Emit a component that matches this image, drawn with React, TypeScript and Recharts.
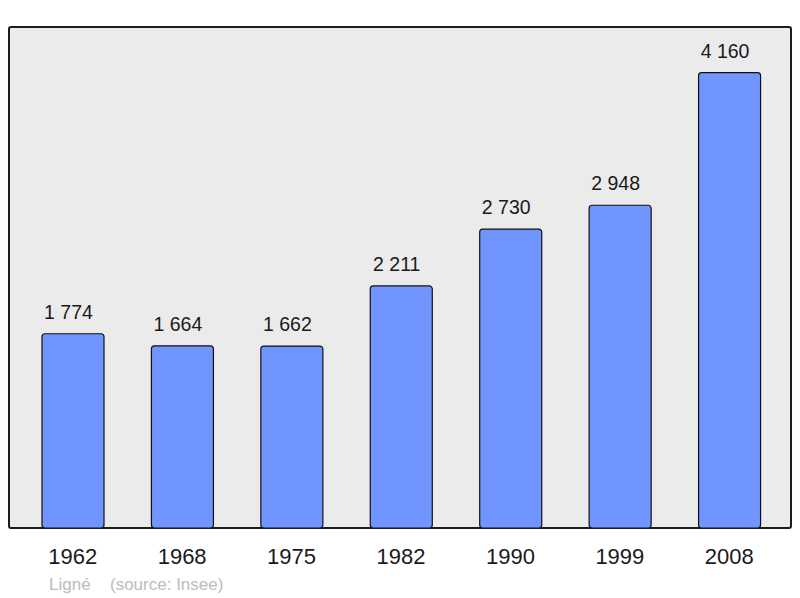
import React from 'react';
import { BarChart, Bar, XAxis, YAxis, LabelList } from 'recharts';

const years = ['1962', '1968', '1975', '1982', '1990', '1999', '2008'];
const population = [1774, 1664, 1662, 2211, 2730, 2948, 4160];
const commune = 'Ligné';
const sourceText = '(source: Insee)';

const data = years.map((y, i) => ({ year: y, pop: population[i] }));
const yMax = Math.max(...population) * 1.1;

const fmt = (v: any) => String(v).replace(/\B(?=(\d{3})+(?!\d))/g, ' ');

const FONT = '"Liberation Sans", Arial, sans-serif';

export default function App() {
  return (
    <div style={{ position: 'absolute', left: 0, top: 0, width: 800, height: 598, background: '#fff', fontFamily: FONT }}>
      <div
        style={{
          position: 'absolute',
          left: 8,
          top: 26,
          width: 784,
          height: 503,
          boxSizing: 'border-box',
          border: '2px solid #1c1c1c',
          borderRadius: 3,
          background: '#ebebeb',
        }}
      />
      <div style={{ position: 'absolute', left: 0, top: 0 }}>
        <BarChart width={800} height={598} data={data} margin={{ top: 27, right: 9, bottom: 0, left: 9 }}>
          <XAxis
            dataKey="year"
            height={70}
            axisLine={false}
            tickLine={false}
            tickSize={6}
            tickMargin={14}
            padding={{ left: 9, right: 7 }}
            tick={{ fill: '#1a1a1a', fontSize: 22, fontFamily: FONT }}
            interval={0}
          />
          <YAxis hide domain={[0, yMax]} allowDataOverflow />
          <Bar dataKey="pop" fill="#7195ff" stroke="#111" strokeWidth={1.2} barSize={62} radius={3} isAnimationActive={false}>
            <LabelList dataKey="pop" position="top" offset={15} dx={-4.5} formatter={fmt} fill="#1a1a1a" fontSize={19.5} fontFamily={FONT} />
          </Bar>
        </BarChart>
      </div>
      <div style={{ position: 'absolute', left: 49, top: 575.6, fontSize: 17, lineHeight: '17px', color: '#bcbcbc', whiteSpace: 'nowrap' }}>
        {commune}
      </div>
      <div style={{ position: 'absolute', left: 110, top: 575.6, fontSize: 17, lineHeight: '17px', color: '#bcbcbc', whiteSpace: 'nowrap' }}>
        {sourceText}
      </div>
    </div>
  );
}
